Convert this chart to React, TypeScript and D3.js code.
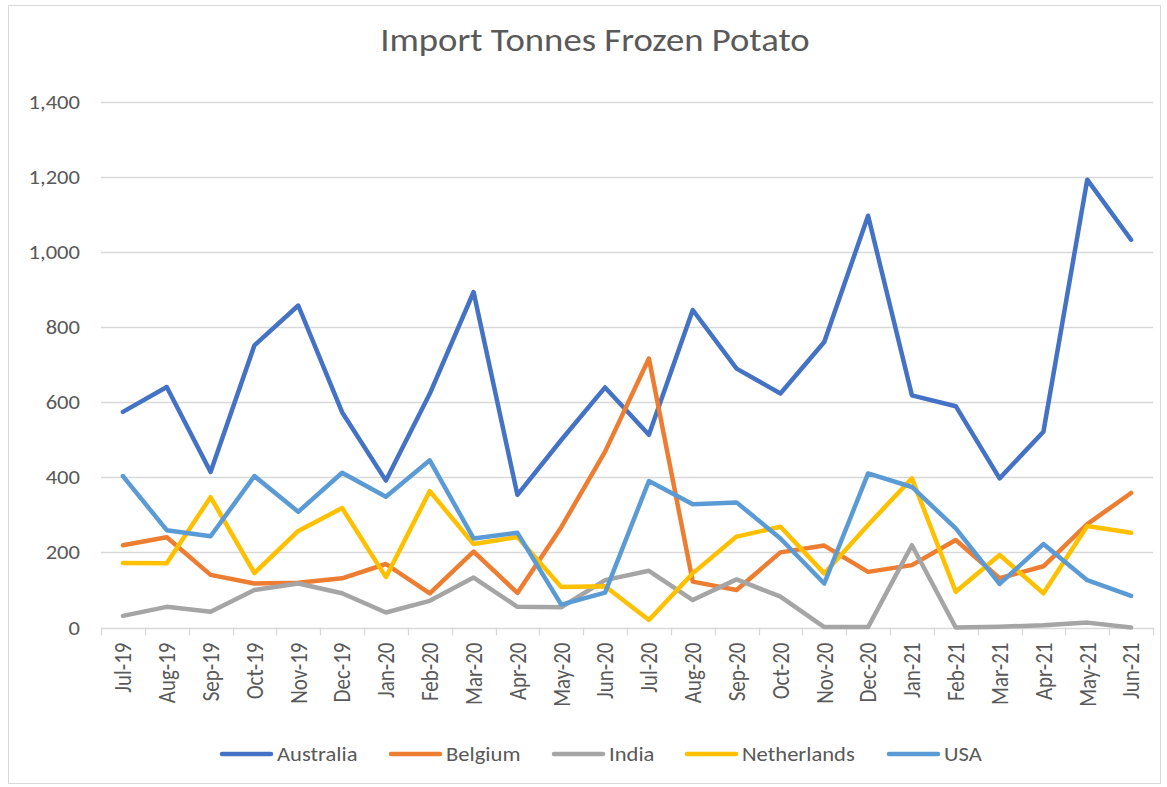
import { useEffect, useRef } from 'react';
import * as d3 from 'd3';

const months = ['Jul-19','Aug-19','Sep-19','Oct-19','Nov-19','Dec-19','Jan-20','Feb-20','Mar-20','Apr-20','May-20','Jun-20',
  'Jul-20','Aug-20','Sep-20','Oct-20','Nov-20','Dec-20','Jan-21','Feb-21','Mar-21','Apr-21','May-21','Jun-21'];

const australia = [574,640,414,751,857,573,391,622,893,353,499,639,513,845,689,623,760,1096,618,589,397,521,1192,1032];
const belgium = [219,240,140,117,119,131,169,91,202,92,267,468,716,122,100,200,218,148,166,233,131,163,275,358];
const india = [31,55,42,100,117,91,40,71,133,55,54,126,151,73,128,82,1,1,219,0,2,6,13,0];
const netherlands = [172,171,347,145,257,318,134,363,222,241,108,110,20,144,242,268,144,273,397,95,193,91,270,252];
const usa = [403,259,243,403,308,412,348,445,237,252,61,93,390,328,333,237,117,410,374,264,116,222,126,84];

const yTicks = [0,200,400,600,800,1000,1200,1400];

const seriesNames = ['Australia','Belgium','India','Netherlands','USA'];
const seriesColors = ['#4472C4','#ED7D31','#A5A5A5','#FFC000','#5B9BD5'];

const font = 'Calibri, Carlito, "Open Sans", sans-serif';
const textColor = '#595959';
// the picture is a bit wider than it is tall, text comes out stretched sideways
const stretch = 1.13;

const LineChart = () => {
  const ref = useRef<SVGSVGElement>(null);

  useEffect(() => {
    const svg = d3.select(ref.current);
    svg.selectAll('*').remove();

    const left = 101;
    const right = 1153;
    const top = 101.5;
    const bottom = 627.5;

    // chart frame
    svg.append('rect')
      .attr('x', 8.5).attr('y', 5.5)
      .attr('width', 1152).attr('height', 778)
      .attr('fill', 'white').attr('stroke', '#d9d9d9');

    svg.append('text')
      .attr('transform', `translate(595,51) scale(${stretch},1)`)
      .attr('text-anchor', 'middle')
      .attr('font-family', font).attr('font-size', 32.5)
      .attr('fill', textColor)
      .text('Import Tonnes Frozen Potato');

    const x = d3.scaleBand().domain(months).range([left, right]);
    const y = d3.scaleLinear().domain([0, 1400]).range([bottom, top]);

    // gridlines
    svg.append('g').selectAll('line')
      .data(yTicks.filter(t => t > 0))
      .enter().append('line')
      .attr('x1', left).attr('x2', right)
      .attr('y1', d => Math.round(y(d)) + 0.5).attr('y2', d => Math.round(y(d)) + 0.5)
      .attr('stroke', '#d9d9d9').attr('stroke-width', 1.3);

    // y labels
    svg.append('g').selectAll('text')
      .data(yTicks)
      .enter().append('text')
      .attr('transform', d => `translate(80,${y(d)}) scale(${stretch},1)`)
      .attr('dy', '0.35em')
      .attr('text-anchor', 'end')
      .attr('font-family', font).attr('font-size', 20)
      .attr('fill', textColor)
      .text(d => d3.format(',')(d));

    // x axis line and ticks
    const ax = svg.append('g');
    ax.append('line')
      .attr('x1', left).attr('x2', right)
      .attr('y1', Math.round(bottom) + 0.5).attr('y2', Math.round(bottom) + 0.5)
      .attr('stroke', '#d9d9d9').attr('stroke-width', 1.3);
    const bounds = months.map(m => x(m) as number).concat([right]);
    ax.selectAll('line.tick')
      .data(bounds)
      .enter().append('line')
      .attr('class', 'tick')
      .attr('x1', d => Math.round(d) + 0.5).attr('x2', d => Math.round(d) + 0.5)
      .attr('y1', bottom).attr('y2', bottom + 8)
      .attr('stroke', '#d9d9d9').attr('stroke-width', 1.3);

    ax.selectAll('text')
      .data(months)
      .enter().append('text')
      .attr('transform', d => `translate(${(x(d) as number) + x.bandwidth() / 2},${bottom + 15}) rotate(-90) scale(1,${stretch})`)
      .attr('dy', '0.35em')
      .attr('text-anchor', 'end')
      .attr('font-family', font).attr('font-size', 21)
      .attr('fill', textColor)
      .text(d => d);

    // lines
    const allSeries = [australia, belgium, india, netherlands, usa];
    const line = d3.line<number>()
      .x((_, i) => (x(months[i]) as number) + x.bandwidth() / 2)
      .y(d => y(d));

    allSeries.forEach((s, i) => {
      svg.append('path')
        .datum(s)
        .attr('d', line)
        .attr('fill', 'none')
        .attr('stroke', seriesColors[i])
        .attr('stroke-width', 4.5)
        .attr('stroke-linejoin', 'round')
        .attr('stroke-linecap', 'round');
    });

    // legend
    const legendX = [220, 389, 552, 685, 887];
    const ly = 754;
    const lg = svg.append('g');
    seriesNames.forEach((name, i) => {
      lg.append('line')
        .attr('x1', legendX[i] + 2).attr('x2', legendX[i] + 51)
        .attr('y1', ly).attr('y2', ly)
        .attr('stroke', seriesColors[i])
        .attr('stroke-width', 4.5)
        .attr('stroke-linecap', 'round');
      lg.append('text')
        .attr('transform', `translate(${legendX[i] + 57},${ly}) scale(${stretch},1)`)
        .attr('dy', '0.35em')
        .attr('font-family', font).attr('font-size', 20)
        .attr('fill', textColor)
        .text(name);
    });
  }, []);

  return <svg ref={ref} width={1167} height={787} style={{ position: 'absolute', left: 0, top: 0 }} />;
};

export default function App() {
  return <LineChart />;
}
